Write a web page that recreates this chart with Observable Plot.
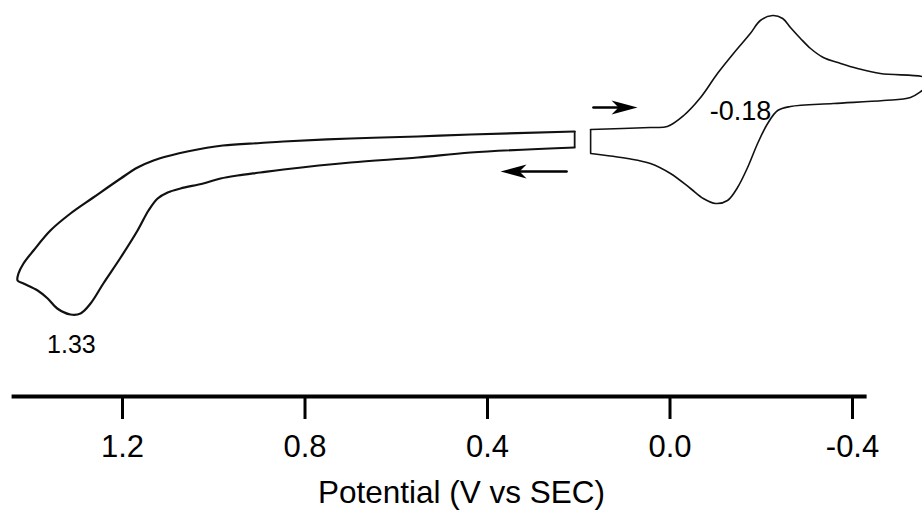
<!DOCTYPE html>
<html>
<head>
<meta charset="utf-8">
<script src="https://cdn.jsdelivr.net/npm/d3@7"></script>
<script src="https://cdn.jsdelivr.net/npm/@observablehq/plot@0.6"></script>
<style>
  html, body { margin: 0; padding: 0; background: #fff; overflow: hidden; }
</style>
</head>
<body>
<div id="chart"></div>
<script>
// ---- data (potential in V vs SEC, current in arbitrary units) ----
const tickValues = [1.2, 0.8, 0.4, 0.0, -0.4];
const xLabel = "Potential (V vs SEC)";
const xDomain = [1.4674, -0.5534];
const yDomain = [0, 39.6];
const axisExtent = [1.442, -0.432];

// left scan loop (0.2 V -> 1.43 V -> 0.2 V)
const leftV = [0.209, 0.437, 0.553, 0.700, 0.847, 0.898, 0.980, 1.058, 1.095,
               1.132, 1.167, 1.204, 1.264, 1.314, 1.358, 1.395, 1.417, 1.428, 1.430,
               1.417, 1.386, 1.364, 1.343, 1.314, 1.292, 1.270, 1.242, 1.204, 1.167,
               1.143, 1.123, 1.101, 1.073, 1.023, 0.985, 0.948, 0.898, 0.847, 0.700,
               0.553, 0.437, 0.209];
const leftI = [26.5, 26.2, 26.0, 25.8, 25.5, 25.35, 25.1, 24.5, 24.1,
               23.6, 22.9, 21.8, 19.9, 18.3, 16.6, 14.6, 13.3, 12.3, 11.6,
               11.3, 10.6, 9.8, 8.8, 8.2, 8.3, 9.3, 11.3, 13.9, 16.6,
               18.6, 19.8, 20.4, 20.8, 21.3, 21.8, 22.1, 22.4, 22.7, 23.4,
               23.9, 24.4, 24.9];

// right scan loop (0.17 V -> -0.58 V -> 0.17 V)
const rightV = [0.174, 0.043, 0.006, -0.030, -0.067, -0.104, -0.139, -0.176, -0.198, -0.225,
                -0.247, -0.264, -0.286, -0.308, -0.336, -0.374, -0.411, -0.461, -0.553, -0.582,
                -0.553, -0.527, -0.468, -0.358, -0.264, -0.236, -0.214, -0.192, -0.170,
                -0.148, -0.126, -0.100, -0.073, -0.045, -0.001, 0.043, 0.093, 0.174];
const rightI = [26.7, 26.9, 27.0, 28.1, 29.9, 32.3, 34.3, 36.3, 37.6, 38.1,
                37.8, 36.9, 35.8, 34.8, 33.9, 33.3, 32.8, 32.3, 32.0, 31.6,
                30.6, 29.9, 29.6, 29.3, 29.0, 28.6, 27.3, 25.3, 22.9,
                20.9, 19.6, 19.3, 19.8, 20.8, 22.3, 23.3, 23.8, 24.3];

// vertical ends of the two scans at the gap
const scanEndV = [0.209, 0.174];
const scanEndTopI = [26.5, 26.7];
const scanEndBottomI = [24.9, 24.3];

// peak annotations
const peakLabels = ["1.33", "-0.18"];
const peakLabelV = [1.312, -0.1545];
const peakLabelI = [5.2, 28.5];
const peakLabelSize = [25, 27];

// scan direction arrows
const arrowTailV = [0.1677, 0.2268];
const arrowTipV = [0.0712, 0.3715];
const arrowI = [28.9, 22.5];
const arrowRotate = [0, 180];

// ---- build tables ----
const leftLoop = leftV.map((v, i) => ({V: v, I: leftI[i]}));
const rightLoop = rightV.map((v, i) => ({V: v, I: rightI[i]}));
const scanEnds = scanEndV.map((v, i) => ({V: v, top: scanEndTopI[i], bottom: scanEndBottomI[i], w: i === 0 ? 1.8 : 1.6}));
const peaks = peakLabels.map((t, i) => ({t, V: peakLabelV[i], I: peakLabelI[i], fs: peakLabelSize[i]}));
const arrows = arrowTailV.map((v, i) => ({tail: v, tip: arrowTipV[i], I: arrowI[i], rot: arrowRotate[i]}));
const axisLine = [{y: 0, x1: axisExtent[0], x2: axisExtent[1]}];

const arrowHead = {
  draw(ctx) {
    ctx.moveTo(0, 0);
    ctx.lineTo(-26, -7);
    ctx.lineTo(-19, 0);
    ctx.lineTo(-26, 7);
    ctx.closePath();
  }
};

const chart = Plot.plot({
  width: 922,
  height: 510,
  marginLeft: 0,
  marginRight: 0,
  marginTop: 0,
  marginBottom: 114,
  style: {fontFamily: "'Liberation Sans', Arial, sans-serif", background: "#fff", color: "#000"},
  x: {domain: xDomain, axis: null},
  y: {domain: yDomain, axis: null},
  marks: [
    Plot.line(leftLoop, {x: "V", y: "I", curve: "catmull-rom", stroke: "#111", strokeWidth: 2.2, clip: true}),
    Plot.line(rightLoop, {x: "V", y: "I", curve: "catmull-rom", stroke: "#111", strokeWidth: 1.6, clip: true}),
    Plot.ruleX(scanEnds, {x: "V", y1: "bottom", y2: "top", stroke: "#111", strokeWidth: "w"}),
    Plot.text(peaks, {x: "V", y: "I", text: "t", fontSize: "fs", lineAnchor: "middle", fill: "#000"}),
    Plot.arrow(arrows, {x1: "tail", x2: "tip", y1: "I", y2: "I", headLength: 0, insetEnd: 14, stroke: "#000", strokeWidth: 2.7}),
    Plot.dot(arrows, {x: "tip", y: "I", symbol: arrowHead, r: 5, rotate: "rot", fill: "#000", stroke: "none"}),
    Plot.ruleY(axisLine, {y: "y", x1: "x1", x2: "x2", stroke: "#000", strokeWidth: 4}),
    Plot.axisX({anchor: "bottom", ticks: tickValues, tickFormat: d => d.toFixed(1), tickSize: 23, tickPadding: 15, fontSize: 31, strokeWidth: 3, label: null}),
    Plot.text([xLabel], {frameAnchor: "bottom", dy: 96, fontSize: 31.5, lineAnchor: "middle", fill: "#000"})
  ]
});
document.getElementById("chart").appendChild(chart);
</script>
</body>
</html>
